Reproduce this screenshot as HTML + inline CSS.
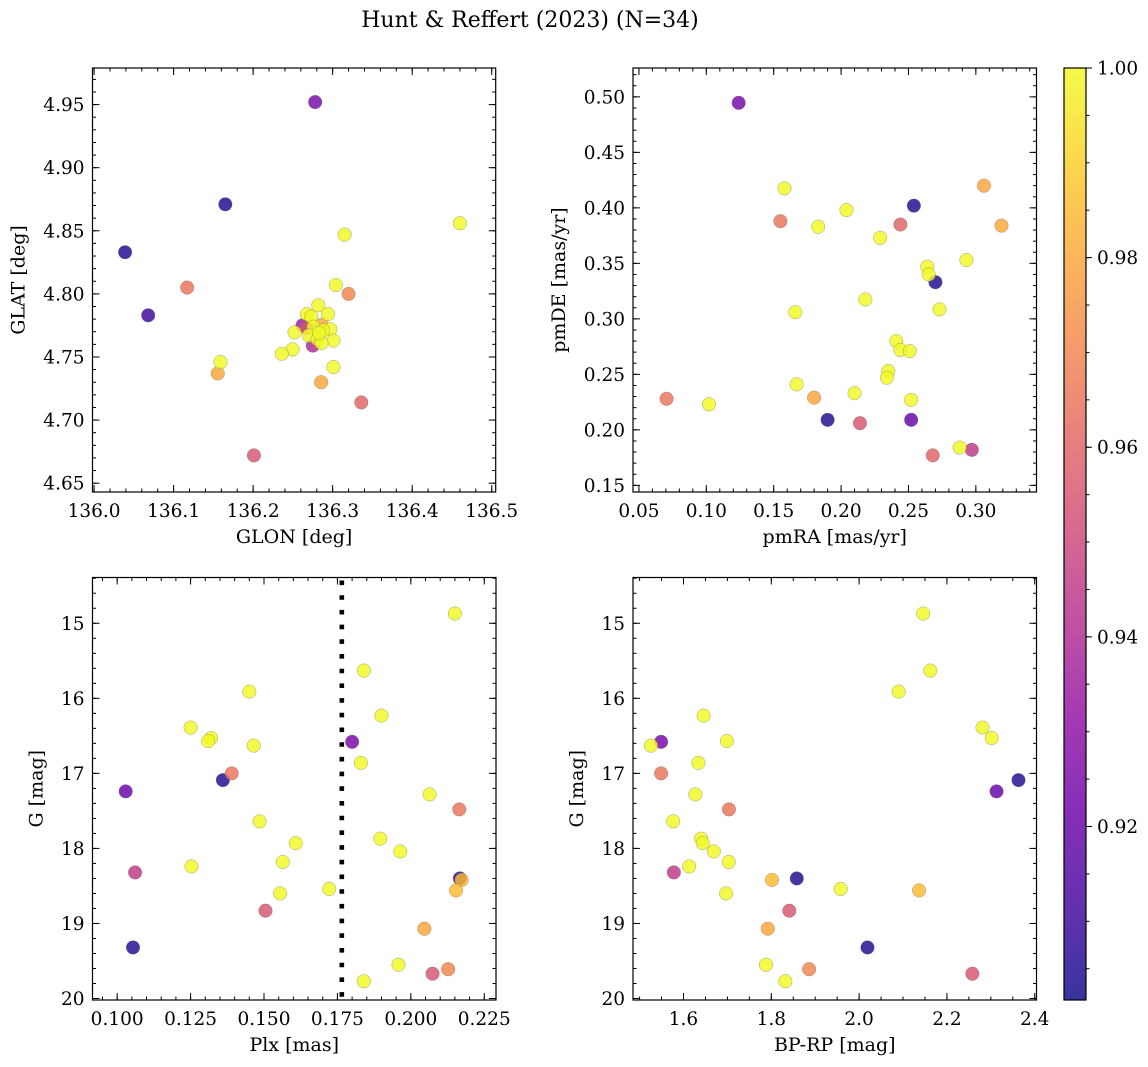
<!DOCTYPE html>
<html><head><meta charset="utf-8"><title>Hunt & Reffert (2023)</title>
<style>
html,body{margin:0;padding:0;background:#fff;}
svg{display:block;font-family:"DejaVu Serif","Liberation Serif",serif;}
</style></head>
<body>
<svg id="fig" width="1148" height="1067" viewBox="0 0 1148 1067" xmlns="http://www.w3.org/2000/svg">
<rect x="0" y="0" width="1148" height="1067" fill="#fff"/>
<text x="530" y="27" font-size="22" text-anchor="middle">Hunt &amp; Reffert (2023) (N=34)</text>
</svg>
<script>
// ---------- data ----------
const prob = [0.925,0.905,0.905,0.91,0.965,1,0.98,0.955,1,1,1,0.97,1,0.98,0.96,1,1,1,1,0.98,0.955,1,1,1,1,1,1,1,1,0.94,1,1,0.935,1];
const glon = [136.278,136.165,136.039,136.068,136.117,136.159,136.1555,136.201,136.315,136.460,136.304,136.320,136.301,136.2855,136.336,136.282,136.294,136.2675,136.273,136.286,136.2675,136.276,136.297,136.288,136.252,136.270,136.281,136.301,136.286,136.275,136.2496,136.236,136.262,136.283];
const glat = [4.952,4.871,4.833,4.783,4.805,4.746,4.737,4.672,4.847,4.856,4.807,4.800,4.742,4.730,4.714,4.791,4.784,4.784,4.782,4.7755,4.773,4.774,4.772,4.771,4.7695,4.767,4.764,4.763,4.761,4.759,4.756,4.7525,4.775,4.769];

const probPM = [0.925,1,0.965,1,1,1,0.96,0.905,0.98,0.98,1,1,1,0.905,1,1,1,1,1,1,1,1,1,1,0.98,1,0.965,1,0.905,0.955,0.92,1,0.945,0.96];
const pmra = [0.124,0.158,0.155,0.183,0.204,0.229,0.244,0.254,0.306,0.319,0.293,0.264,0.265,0.270,0.218,0.273,0.166,0.241,0.244,0.251,0.235,0.234,0.167,0.210,0.180,0.252,0.0705,0.102,0.190,0.214,0.252,0.288,0.297,0.268];
const pmde = [0.4946,0.4175,0.388,0.383,0.398,0.373,0.385,0.402,0.420,0.384,0.353,0.347,0.340,0.333,0.3175,0.3085,0.306,0.280,0.272,0.271,0.253,0.247,0.241,0.233,0.229,0.227,0.228,0.223,0.209,0.206,0.209,0.184,0.182,0.177];

const probPhot = [1,1,1,1,1,1,1,1,0.925,1,0.965,0.905,0.92,1,0.965,1,1,1,1,1,1,0.945,0.905,0.985,0.985,1,1,0.955,0.98,0.905,1,0.97,0.955,1];
const plx = [0.215,0.184,0.145,0.190,0.125,0.132,0.131,0.1465,0.180,0.183,0.139,0.136,0.1029,0.2064,0.2165,0.1485,0.1896,0.1608,0.1964,0.1564,0.1253,0.1061,0.2167,0.2173,0.2154,0.1722,0.1555,0.1505,0.2046,0.1054,0.1958,0.2127,0.2074,0.184];
const gmag = [14.87,15.63,15.91,16.23,16.39,16.53,16.57,16.63,16.58,16.86,17.00,17.09,17.24,17.28,17.48,17.64,17.87,17.93,18.04,18.18,18.24,18.32,18.40,18.42,18.56,18.54,18.60,18.83,19.07,19.32,19.55,19.61,19.67,19.77];
const bprp = [2.146,2.162,2.090,1.646,2.281,2.302,1.699,1.526,1.549,1.634,1.549,2.363,2.313,1.627,1.7035,1.5765,1.640,1.644,1.669,1.703,1.613,1.578,1.858,1.8015,2.1365,1.958,1.697,1.841,1.792,2.019,1.788,1.886,2.258,1.832];
const plxCut = [0.1765];

const glonTicks = ["136.0","136.1","136.2","136.3","136.4","136.5"];
const glatTicks = ["4.65","4.70","4.75","4.80","4.85","4.90","4.95"];
const pmraTicks = ["0.05","0.10","0.15","0.20","0.25","0.30"];
const pmdeTicks = ["0.15","0.20","0.25","0.30","0.35","0.40","0.45","0.50"];
const plxTicks = ["0.100","0.125","0.150","0.175","0.200","0.225"];
const gTicks = ["15","16","17","18","19","20"];
const bprpTicks = ["1.6","1.8","2.0","2.2","2.4"];
const cbarTicks = ["0.92","0.94","0.96","0.98","1.00"];

// ---------- helpers ----------
const svg = document.getElementById('fig');
const NS = 'http://www.w3.org/2000/svg';
const TF = 18.5, LF = 19;
function mk(tag, attrs, parent){
  const e = document.createElementNS(NS, tag);
  for (const k in attrs) e.setAttribute(k, attrs[k]);
  (parent||svg).appendChild(e);
  return e;
}
const plasmaStops = [[13,8,135],[65,4,157],[106,0,168],[143,13,164],[177,42,144],[204,71,120],[225,100,98],[242,132,75],[252,166,54],[252,206,37],[240,249,33]];
function plasma(t){
  t = Math.max(0, Math.min(1, t));
  const f = t*10, i = Math.min(9, Math.floor(f)), u = f - i;
  const a = plasmaStops[i], b = plasmaStops[i+1];
  return 'rgb(' + [0,1,2].map(k => Math.round(a[k] + (b[k]-a[k])*u)).join(',') + ')';
}
const cmin = 0.9017, cmax = 1.0;
function pcol(p){ return plasma((p-cmin)/(cmax-cmin)); }

function linScale(d0, d1, r0, r1){ return v => r0 + (v-d0)/(d1-d0)*(r1-r0); }

function panel(o){
  const g = mk('g', {});
  
  
  const xs = linScale(o.xlim[0], o.xlim[1], o.box.l, o.box.r);
  const ys = linScale(o.ylim[0], o.ylim[1], o.box.b, o.box.t);
  const pg = mk('g', {}, g);
  
  
  const order = o.x.map((_, i) => i).sort((a, b) => (o.p[a] - o.p[b]) || (a - b));
  order.forEach(i => {
    const c = mk('circle', {cx: xs(o.x[i]), cy: ys(o.y[i]), r: 6.8, fill: pcol(o.p[i]), 'fill-opacity': 0.82, stroke: '#6a6a6a', 'stroke-width': 0.5, 'stroke-opacity': 0.6}, pg);
    
    
  });
  if (o.vline){
    const l = mk('line', {x1: xs(o.vline[0]), x2: xs(o.vline[0]), y1: o.box.t+3, y2: o.box.b, stroke: '#000', 'stroke-width': 4.6, 'stroke-dasharray': '4.6 10.1'}, g);
    
    
  }
  const fr = mk('rect', {x: o.box.l, y: o.box.t, width: o.box.r-o.box.l, height: o.box.b-o.box.t, fill: 'none', stroke: '#000', 'stroke-width': 1.2}, g);
  
  
  const tg = mk('g', {stroke: '#000', 'stroke-width': 1}, g);
  
  
  const xl = mk('g', {'font-size': TF, 'text-anchor': 'middle'}, g);
  
  
  o.xt.forEach(s => {
    const v = parseFloat(s), X = xs(v);
    mk('line', {x1: X, x2: X, y1: o.box.b, y2: o.box.b-7}, tg);
    mk('line', {x1: X, x2: X, y1: o.box.t, y2: o.box.t+7}, tg);
    const t = mk('text', {x: X, y: o.box.b+25}, xl); t.textContent = s;
    
    
  });
  const x0 = Math.ceil(o.xlim[0]/o.xminor - 1e-6), x1 = Math.floor(o.xlim[1]/o.xminor + 1e-6);
  for (let k = x0; k <= x1; k++){
    const X = xs(k*o.xminor);
    mk('line', {x1: X, x2: X, y1: o.box.b, y2: o.box.b-3.5}, tg);
    mk('line', {x1: X, x2: X, y1: o.box.t, y2: o.box.t+3.5}, tg);
  }
  const yl = mk('g', {'font-size': TF, 'text-anchor': 'end'}, g);
  
  
  o.yt.forEach(s => {
    const v = parseFloat(s), Y = ys(v);
    mk('line', {x1: o.box.l, x2: o.box.l+7, y1: Y, y2: Y}, tg);
    mk('line', {x1: o.box.r, x2: o.box.r-7, y1: Y, y2: Y}, tg);
    const t = mk('text', {x: o.box.l-8, y: Y+6.5}, yl); t.textContent = s;
    
    
  });
  const lo = Math.min(o.ylim[0], o.ylim[1]), hi = Math.max(o.ylim[0], o.ylim[1]);
  const y0 = Math.ceil(lo/o.yminor - 1e-6), y1 = Math.floor(hi/o.yminor + 1e-6);
  for (let k = y0; k <= y1; k++){
    const Y = ys(k*o.yminor);
    mk('line', {x1: o.box.l, x2: o.box.l+3.5, y1: Y, y2: Y}, tg);
    mk('line', {x1: o.box.r, x2: o.box.r-3.5, y1: Y, y2: Y}, tg);
  }
  const cx = (o.box.l+o.box.r)/2, cy = (o.box.t+o.box.b)/2;
  const xt = mk('text', {x: cx, y: o.box.b+51, 'font-size': LF, 'text-anchor': 'middle'}, g);
  xt.textContent = o.xlabel;
  
  
  const yx = o.box.l - o.ylabOff;
  const yt = mk('text', {x: yx, y: cy, 'font-size': LF, 'text-anchor': 'middle', transform: 'rotate(-90 ' + yx + ' ' + cy + ')'}, g);
  yt.textContent = o.ylabel;
  
  
}

panel({name: 'sky-position-panel', box: {l:92.5,t:68,r:495.7,b:492}, xlim: [135.998,136.505], ylim: [4.643,4.979],
  x: glon, y: glat, p: prob, xt: glonTicks, yt: glatTicks, xminor: 0.02, yminor: 0.01, xlabel: 'GLON [deg]', ylabel: 'GLAT [deg]', ylabOff: 68});
panel({name: 'proper-motion-panel', box: {l:633,t:68,r:1036.5,b:492}, xlim: [0.0456,0.345], ylim: [0.144,0.526],
  x: pmra, y: pmde, p: probPM, xt: pmraTicks, yt: pmdeTicks, xminor: 0.01, yminor: 0.01, xlabel: 'pmRA [mas/yr]', ylabel: 'pmDE [mas/yr]', ylabOff: 68});
panel({name: 'parallax-magnitude-panel', box: {l:92.5,t:577.5,r:496,b:1000}, xlim: [0.0916,0.229], ylim: [20.02,14.39],
  x: plx, y: gmag, p: probPhot, xt: plxTicks, yt: gTicks, xminor: 0.005, yminor: 0.2, xlabel: 'Plx [mas]', ylabel: 'G [mag]', ylabOff: 50, vline: plxCut});
panel({name: 'color-magnitude-panel', box: {l:633,t:577.5,r:1036.5,b:1000}, xlim: [1.485,2.404], ylim: [20.02,14.39],
  x: bprp, y: gmag, p: probPhot, xt: bprpTicks, yt: gTicks, xminor: 0.05, yminor: 0.2, xlabel: 'BP-RP [mag]', ylabel: 'G [mag]', ylabOff: 50});

// ---------- colorbar ----------
(function(){
  const cb = {l:1064,t:68,r:1086,b:1000};
  const g = mk('g', {});
  
  
  const defs = mk('defs', {}, g);
  const lg = mk('linearGradient', {id: 'plasmaGrad', x1: 0, y1: 1, x2: 0, y2: 0}, defs);
  for (let i = 0; i <= 20; i++){
    mk('stop', {offset: i/20, 'stop-color': plasma(i/20)}, lg);
  }
  const r = mk('rect', {x: cb.l, y: cb.t, width: cb.r-cb.l, height: cb.b-cb.t, fill: 'url(#plasmaGrad)', 'fill-opacity': 0.82}, g);
  
  
  const fr = mk('rect', {x: cb.l, y: cb.t, width: cb.r-cb.l, height: cb.b-cb.t, fill: 'none', stroke: '#000', 'stroke-width': 1.2}, g);
  
  
  const ys = linScale(cmin, cmax, cb.b, cb.t);
  const tg = mk('g', {stroke: '#000', 'stroke-width': 1}, g);
  cbarTicks.forEach(s => {
    const Y = ys(parseFloat(s));
    mk('line', {x1: cb.r, x2: cb.r+6, y1: Y, y2: Y}, tg);
    const t = mk('text', {x: cb.r+11, y: Y+6.5, 'font-size': TF}, g);
    t.textContent = s;
    
    
  });
  for (let k = 181; k <= 200; k++){
    const v = k*0.005;
    if (v < cmin || v > cmax + 1e-9) continue;
    const Y = ys(v);
    mk('line', {x1: cb.r, x2: cb.r+3.5, y1: Y, y2: Y}, tg);
  }
})();
</script>
</body></html>
